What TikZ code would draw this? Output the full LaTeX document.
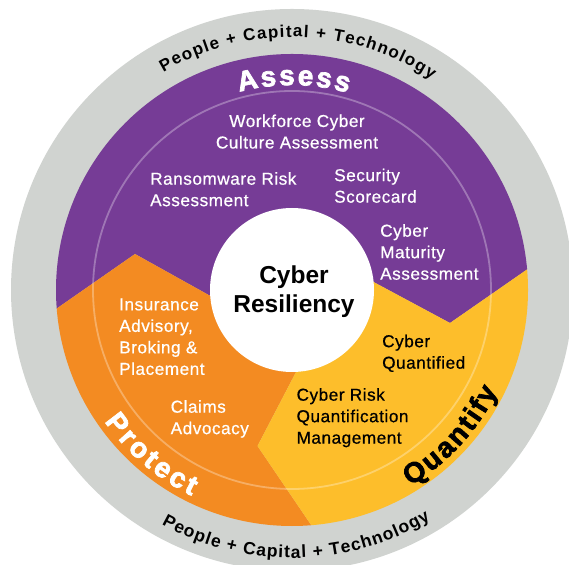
\documentclass[tikz,border=0pt]{standalone}
\usepackage{fontspec}
\setmainfont{Liberation Sans}
\newfontfamily\itemfont[FakeBold=0.6,LetterSpace=3]{Liberation Sans}
\newfontfamily\heavyfont[FakeBold=2.5]{Liberation Sans}
\newfontfamily\bandfont{Liberation Sans}
\usetikzlibrary{calc}
\definecolor{purp}{RGB}{118,60,150}
\definecolor{orng}{RGB}{243,139,34}
\definecolor{yell}{RGB}{253,190,43}
\definecolor{greyc}{RGB}{208,211,208}
\tikzset{
  itembox/.style={inner sep=0pt, align=left, anchor=north west,
    font=\itemfont\fontsize{17.2}{21.5}\selectfont},
  arcletter/.style={inner sep=0pt, anchor=base},
}
\newdimen\arctot
\newdimen\arccur
\newdimen\arclw
% #1 font, #2 colour, #3 centre angle, #4 baseline radius, #5 extra spacing (pt),
% #6 direction (1 = top, read clockwise; -1 = bottom, read counter-clockwise),
% #7 macro holding letter/advance-width list (1/1000 em), #8 font size
\newcommand\arcwordf[8]{%
  \global\arctot=0pt
  \foreach \ch/\w in #7{\pgfmathsetlength\arclw{\w/1000*#8}%
    \global\advance\arctot by \arclw
    \global\advance\arctot by #5pt}%
  \global\advance\arctot by -#5pt
  \global\arccur=0pt
  \foreach \ch/\w in #7{%
    \pgfmathsetlength\arclw{\w/1000*#8}%
    \pgfmathsetmacro\arcang{#3 + (#6)*(0.5*\the\arctot - \the\arccur - 0.5*\the\arclw)/#4*57.29578}%
    \pgfmathsetmacro\arcrot{\arcang - 90*(#6)}%
    \node[arcletter, rotate=\arcrot, text=#2, font={#1\fontsize{#8}{#8}\selectfont}] at ($(c0)+(\arcang:#4)$) {\ch};
    \global\advance\arccur by \arclw
    \global\advance\arccur by #5pt}%
}
\def\pctlist{P/667,e/556,o/611,p/611,l/278,e/556,~/278,+/584,~/278,C/722,a/556,p/611,i/278,t/333,a/556,l/278,~/278,+/584,~/278,T/611,e/556,c/556,h/611,n/611,o/611,l/278,o/611,g/611,y/556}
\def\asslist{A/722,s/556,s/556,e/556,s/556,s/556}
\def\prolist{P/667,r/389,o/611,t/333,e/556,c/556,t/333}
\def\quilist{Q/778,u/611,a/556,n/611,t/333,i/278,f/333,y/556}
\begin{document}
\begin{tikzpicture}[x=1pt,y=1pt]
\useasboundingbox (0,0) rectangle (569,564);
\clip (0,0) rectangle (569,564);
\fill[white] (0,0) rectangle (569,564);
\begin{scope}[shift={(0,564)}, yscale=-1]
  \coordinate (ctr) at (292,290);
  \fill[greyc] (ctr) circle[radius=281];
  \begin{scope}
    \clip (ctr) circle[radius=236];
    \fill[purp] (0,0) -- (569,0) -- (569,240.3) -- (450,323) -- (340,264) -- (ctr)
      -- (250,318) -- (135,254) -- (20,334.1) -- (0,334.1) -- cycle;
    \fill[orng] (0,334.1) -- (20,334.1) -- (135,254) -- (250,318) -- (ctr)
      -- (313.75,338) -- (257.5,446) -- (337.6,564) -- (0,564) -- cycle;
    \fill[yell] (ctr) -- (340,264) -- (450,323) -- (569,240.3) -- (569,564)
      -- (337.6,564) -- (257.5,446) -- (313.75,338) -- cycle;
  \end{scope}
  \draw[white, opacity=0.3, line width=1.8] (ctr) circle[radius=199];
  \fill[white] (ctr) circle[radius=82];
  \node[inner sep=0pt, align=center, anchor=north,
    font=\bfseries\fontsize{24.5}{29}\selectfont] (core) at (294,265.5) {Cyber\\Resiliency};
  \node[itembox, align=center, anchor=north, text=white] (wfc) at (297,114.3)
    {Workforce Cyber\\Culture Assessment};
  \node[itembox, text=white] (rra) at (150,172) {Ransomware Risk\\Assessment};
  \node[itembox, text=white] (ssc) at (334,168.5) {Security\\Scorecard};
  \node[itembox, text=white] (cma) at (380,224) {Cyber\\Maturity\\Assessment};
  \node[itembox, text=white] (iab) at (119,298.3) {Insurance\\Advisory,\\Broking \&\\Placement};
  \node[itembox, text=white] (cad) at (170.5,400) {Claims\\Advocacy};
  \node[itembox, text=black] (cqu) at (382,334.5) {Cyber\\Quantified};
  \node[itembox, text=black] (crq) at (296.4,388) {Cyber Risk\\Quantification\\Management};
\end{scope}
% arc texts (y up, centre at (292,274))
\coordinate (c0) at (292,274);
\arcwordf{\heavyfont\bfseries}{white}{89.5}{205}{2.4}{1}{\asslist}{28}
\arcwordf{\heavyfont\bfseries}{white}{229.5}{229}{3.2}{-1}{\prolist}{28}
\arcwordf{\heavyfont\bfseries}{black}{317.5}{229}{2.4}{-1}{\quilist}{28}
\arcwordf{\bandfont\bfseries}{black}{88.5}{253}{1.3}{1}{\pctlist}{17}
\arcwordf{\bandfont\bfseries}{black}{271}{268}{1.0}{-1}{\pctlist}{17.5}
\end{tikzpicture}
\end{document}
